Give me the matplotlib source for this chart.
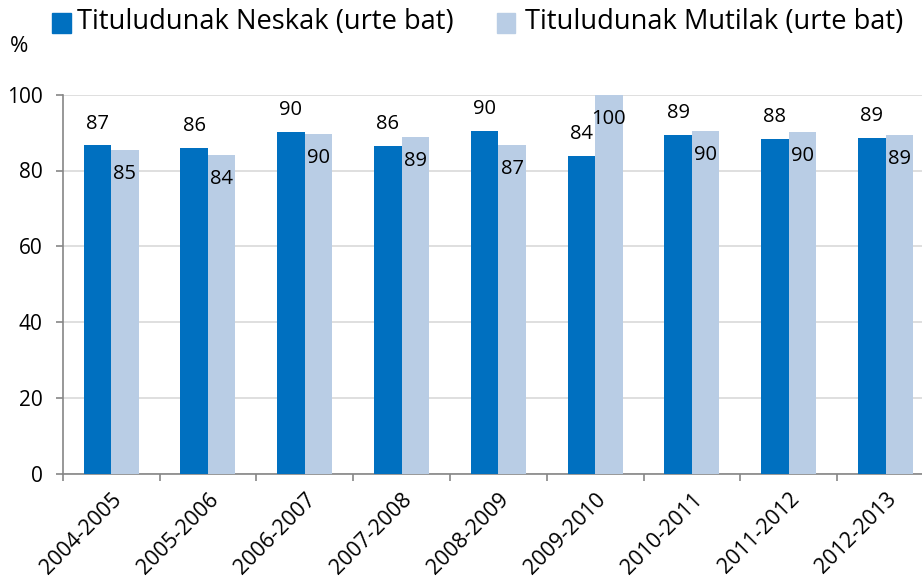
import matplotlib.pyplot as plt
import numpy as np

plt.rcParams['font.family'] = ['Open Sans', 'DejaVu Sans']

# ikasturteak
urteak = ['2004-2005', '2005-2006', '2006-2007', '2007-2008', '2008-2009',
          '2009-2010', '2010-2011', '2011-2012', '2012-2013']
neskak = [86.6, 85.9, 90.2, 86.5, 90.5, 83.8, 89.4, 88.2, 88.7]   # barra ilunak
mutilak = [85.4, 84.0, 89.7, 88.8, 86.8, 100.0, 90.4, 90.1, 89.4]  # barra argiak
neskak_lbl = [87, 86, 90, 86, 90, 84, 89, 88, 89]
mutilak_lbl = [85, 84, 90, 89, 87, 100, 90, 90, 89]

ILUNA = '#0070C0'
ARGIA = '#B9CDE5'
GRIS = '#868686'

fig = plt.figure(figsize=(9.22, 5.8), dpi=100)
ax = fig.add_axes([62.7/922, 1-473.7/580, 871.2/922, 379/580])

x = np.arange(len(urteak))
w = 0.284
ax.bar(x - w/2, neskak, w, color=ILUNA, zorder=3)
ax.bar(x + w/2, mutilak, w, color=ARGIA, zorder=3)

for i in range(len(urteak)):
    ax.annotate(str(neskak_lbl[i]), (x[i] - w/2, neskak[i]), xytext=(0, 15.8),
                textcoords='offset points', ha='center', va='center', fontsize=14.5)
    ax.annotate(str(mutilak_lbl[i]), (x[i] + w/2, mutilak[i]), xytext=(0, -17.3),
                textcoords='offset points', ha='center', va='center', fontsize=14.5)

ax.set_xlim(-0.5, len(urteak) - 0.5)
ax.set_ylim(0, 100)
ax.set_yticks([0, 20, 40, 60, 80, 100])
ax.yaxis.grid(True, color='#D9D9D9', linewidth=1.2, zorder=0)
ax.set_axisbelow(True)

ax.set_xticks(np.arange(len(urteak) + 1) - 0.5)
ax.set_xticklabels([])
ax.set_xticks(x, minor=True)
ax.set_xticklabels(urteak, minor=True, rotation=45, ha='right',
                   rotation_mode='anchor', fontsize=15.5)
ax.tick_params(axis='x', which='minor', length=0, pad=11)
ax.tick_params(axis='x', which='major', length=5, color=GRIS, width=1.2)
ax.tick_params(axis='y', length=5, color=GRIS, width=1.2, labelsize=15, pad=9.5)

for s in ['top', 'right']:
    ax.spines[s].set_visible(False)
for s in ['left', 'bottom']:
    ax.spines[s].set_color(GRIS)
    ax.spines[s].set_linewidth(1.2)

fig.text(10/922, 1-47/580, '%', fontsize=16, va='center', ha='left')

# legenda eskuz
fig.patches.append(plt.Rectangle((52/922, 1-32.5/580), 19/922, 19/580,
                                 transform=fig.transFigure, color=ILUNA))
fig.text(77/922, 1-22/580, 'Tituludunak Neskak (urte bat)', fontsize=19.6,
         va='center', ha='left')
fig.patches.append(plt.Rectangle((497/922, 1-32.5/580), 18/922, 19/580,
                                 transform=fig.transFigure, color=ARGIA))
fig.text(525/922, 1-22/580, 'Tituludunak Mutilak (urte bat)', fontsize=19.6,
         va='center', ha='left')

fig.savefig('out.png', dpi=100)
